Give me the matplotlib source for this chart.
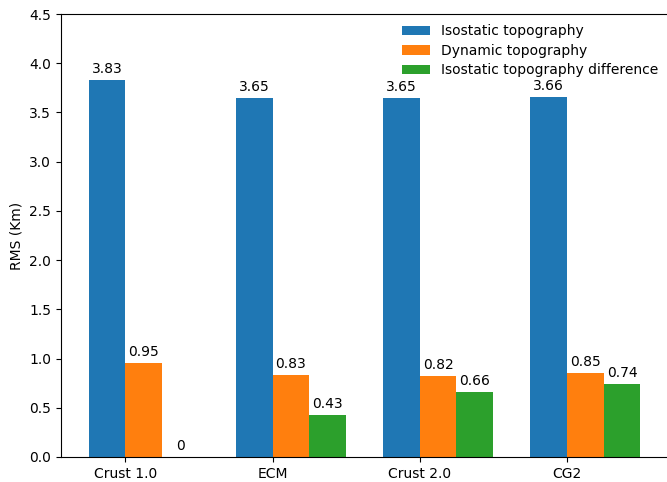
import matplotlib
matplotlib.use("Agg")
import matplotlib.pyplot as plt
import numpy as np

models = ["Crust 1.0", "ECM", "Crust 2.0", "CG2"]
isostatic = [3.83, 3.65, 3.65, 3.66]
dynamic = [0.95, 0.83, 0.82, 0.85]
difference = [0, 0.43, 0.66, 0.74]

W, H = 667, 482
fig = plt.figure(figsize=(W / 100, H / 100), dpi=100)
ax = fig.add_axes([61 / W, 1 - 457 / H, (668 - 61) / W, (457 - 14) / H])

x = np.arange(len(models))
w = 0.25
series = [
    (isostatic, "Isostatic topography", "#1f77b4"),
    (dynamic, "Dynamic topography", "#ff7f0e"),
    (difference, "Isostatic topography difference", "#2ca02c"),
]
for i, (vals, lab, col) in enumerate(series):
    bars = ax.bar(x + (i - 0.5) * w, vals, w, label=lab, color=col)
    ax.bar_label(bars, labels=[f"{v:g}" for v in vals], padding=3, fontsize=10)

ax.set_xticks(x)
ax.set_xticklabels(models)
ax.set_xlim(-0.4375, 3.6875)
ax.set_ylim(0, 4.5)
ax.set_yticks(np.arange(0, 4.51, 0.5))
ax.set_ylabel("RMS (Km)")
ax.legend(loc="upper right", frameon=False, bbox_to_anchor=(1.004, 1.005),
          labelspacing=0.4)

fig.savefig("out.png", dpi=100)
